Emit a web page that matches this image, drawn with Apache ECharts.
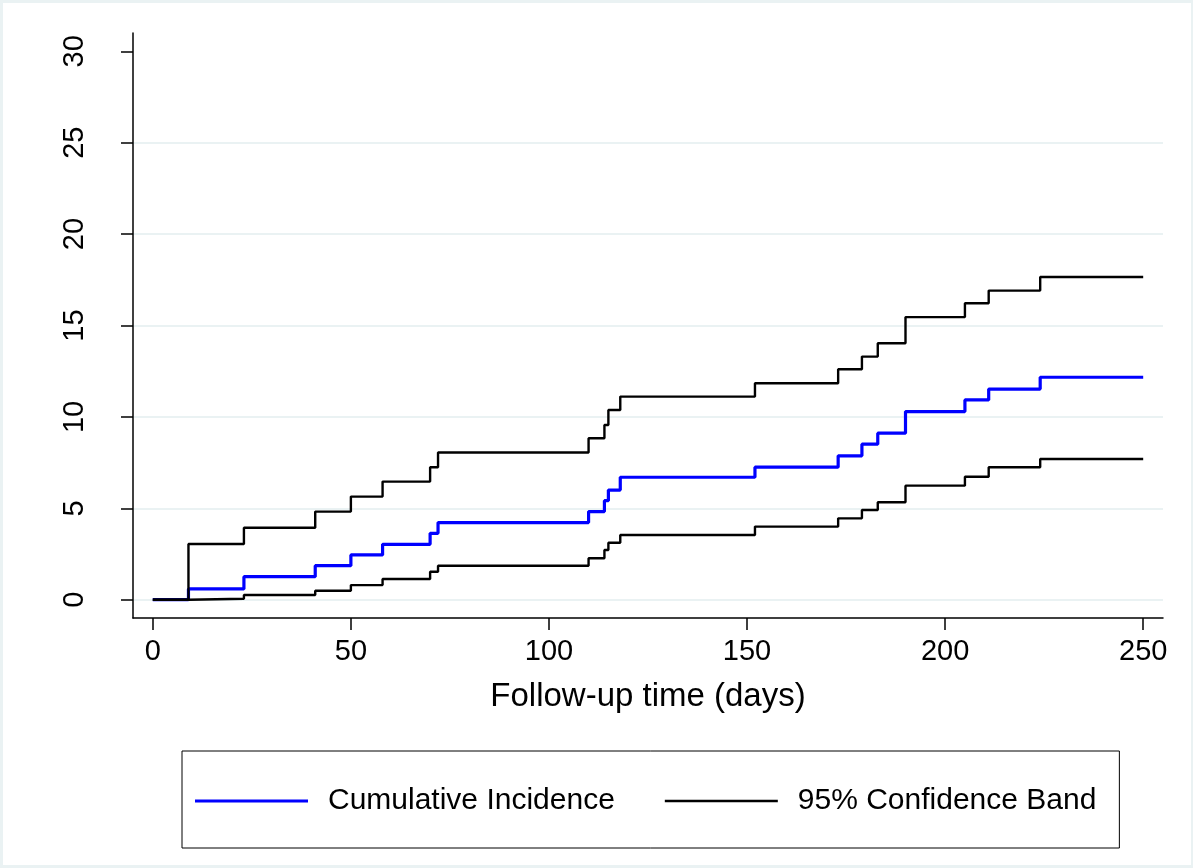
<!DOCTYPE html>
<html>
<head>
<meta charset="utf-8">
<script src="https://cdn.jsdelivr.net/npm/echarts@6/dist/echarts.min.js"></script>
<style>
  html, body { margin: 0; padding: 0; background: #ffffff; }
  #wrap { position: relative; width: 1193px; height: 868px; }
  #chart { position: absolute; left: 0; top: 0; width: 1193px; height: 868px; }
  #frame { position: absolute; left: 0; top: 0; width: 1193px; height: 868px; box-sizing: border-box;
           border-style: solid; border-color: #eaf2f3; border-width: 3px 2px 3px 3px; pointer-events: none; }
</style>
</head>
<body>
<div id="wrap"><div id="chart"></div><div id="frame"></div></div>
<script>
// Follow-up time (days) at which each step begins
const days = [0, 9, 23, 41, 50, 58, 70, 72, 110, 114, 115, 118, 152, 173, 179, 183, 190, 205, 211, 224, 250];
// Cumulative incidence (%)
const cumInc = [0, 0.59, 1.26, 1.86, 2.45, 3.03, 3.63, 4.22, 4.82, 5.42, 6.00, 6.70, 7.25, 7.87, 8.51, 9.11, 10.29, 10.93, 11.52, 12.17, 12.17];
// 95% confidence band, upper and lower limits (%)
const upperCI = [0, 3.05, 3.94, 4.82, 5.64, 6.46, 7.25, 8.05, 8.83, 9.56, 10.38, 11.11, 11.84, 12.61, 13.30, 14.03, 15.46, 16.22, 16.91, 17.65, 17.65];
const lowerCI = [0, 0.05, 0.26, 0.49, 0.80, 1.13, 1.53, 1.86, 2.27, 2.72, 3.12, 3.54, 4.00, 4.45, 4.91, 5.33, 6.24, 6.73, 7.25, 7.70, 7.70];
// Tick labels
const xTicks = [0, 50, 100, 150, 200, 250];
const yTicks = [0, 5, 10, 15, 20, 25, 30];
const yGrid = [0, 5, 10, 15, 20, 25];
const xTitle = 'Follow-up time (days)';
const seriesNames = ['Cumulative Incidence', '95% Confidence Band'];

const pair = (xs, ys) => xs.map((x, i) => [x, ys[i]]);
const FONT = '"Liberation Sans", Arial, Helvetica, sans-serif';

const chart = echarts.init(document.getElementById('chart'), null, { renderer: 'canvas' });
chart.setOption({
  animation: false,
  backgroundColor: '#ffffff',
  textStyle: { fontFamily: FONT, color: '#000' },
  grid: { left: 133, right: 30, top: 33, bottom: 250, containLabel: false },
  xAxis: {
    type: 'value', min: -5, max: 255,
    name: xTitle, nameLocation: 'middle', nameGap: 62,
    nameTextStyle: { fontFamily: FONT, fontSize: 33, color: '#000' },
    axisLine: { show: true, onZero: false, lineStyle: { color: '#000', width: 1.5 } },
    axisTick: { show: true, length: 12, customValues: xTicks, lineStyle: { color: '#000', width: 1.5 } },
    axisLabel: { customValues: xTicks, margin: 19, fontFamily: FONT, fontSize: 29, color: '#000' },
    splitLine: { show: false }
  },
  yAxis: [{
    type: 'value', min: -1, max: 31, position: 'left',
    axisLine: { show: true, onZero: false, lineStyle: { color: '#000', width: 1.5 } },
    axisTick: { show: true, length: 12, customValues: yTicks, lineStyle: { color: '#000', width: 1.5 } },
    axisLabel: { customValues: yTicks, rotate: 90, margin: 44, fontFamily: FONT, fontSize: 29, color: '#000' },
    splitLine: { show: false }
  }, {
    type: 'value', min: -1, max: 31, position: 'left',
    axisLine: { show: false },
    axisTick: { show: false, customValues: yGrid },
    axisLabel: { show: false },
    splitLine: { show: true, lineStyle: { color: '#eaf2f3', width: 2 } }
  }],
  legend: {
    left: 182, top: 751, orient: 'horizontal',
    data: [
      { name: seriesNames[0], icon: 'path://M0,0L113,0L113,3L0,3Z' },
      { name: seriesNames[1], icon: 'path://M0,0L113,0L113,2.4L0,2.4Z' }
    ],
    padding: [35, 23, 32, 13],
    itemGap: 50, itemWidth: 113, itemHeight: 20,
    borderColor: '#000', borderWidth: 1,
    textStyle: { fontFamily: FONT, fontSize: 30, color: '#000', lineHeight: 30, padding: [0, 0, 0, 15] }
  },
  series: [
    { name: seriesNames[0], type: 'line', step: 'end', showSymbol: false, symbol: 'none',
      data: pair(days, cumInc), lineStyle: { color: '#0000ff', width: 3.2 }, itemStyle: { color: '#0000ff' }, z: 3 },
    { name: seriesNames[1], type: 'line', step: 'end', showSymbol: false, symbol: 'none',
      data: pair(days, upperCI), lineStyle: { color: '#000000', width: 2.4 }, itemStyle: { color: '#000000' }, z: 4 },
    { name: seriesNames[1], type: 'line', step: 'end', showSymbol: false, symbol: 'none',
      data: pair(days, lowerCI), lineStyle: { color: '#000000', width: 2.4 }, itemStyle: { color: '#000000' }, z: 4 }
  ]
});
</script>
</body>
</html>
